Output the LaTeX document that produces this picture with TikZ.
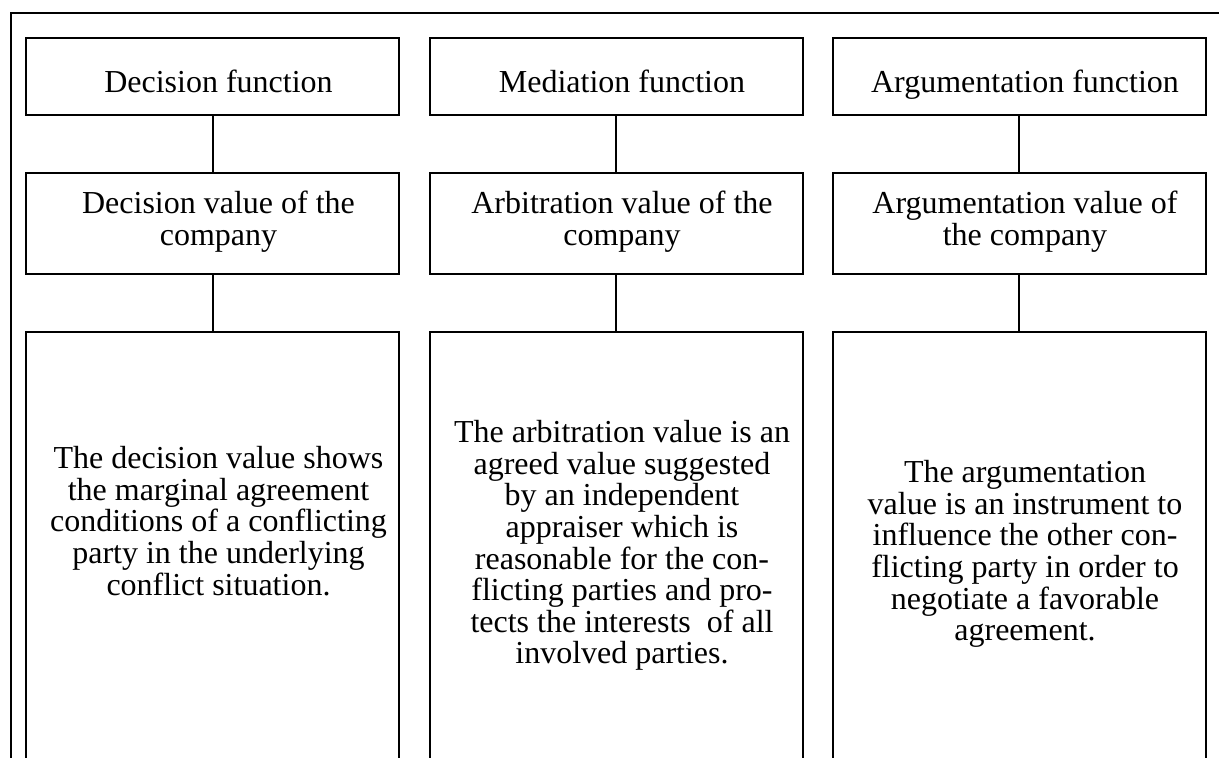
\documentclass[tikz,border=0pt]{standalone}
\usepackage{fontspec}
\setmainfont{Liberation Serif}
\begin{document}
\begin{tikzpicture}[x=0.5pt,y=-0.5pt,
    box/.style={draw,line width=1pt,minimum width=186.5pt,inner sep=0pt},
    txt/.style={anchor=north,align=center,inner sep=0pt,
      font=\fontsize{16pt}{15.8pt}\selectfont},
    link/.style={line width=1pt}]
  \useasboundingbox (0,0) rectangle (1219,758);
  \clip (0,0) rectangle (1219,758);
  % outer frame
  \draw[line width=0.6pt] (11,13) rectangle (1260,800);
  % functions
  \node[box,minimum height=38.5pt] (decfun) at (212.5,76.5) {};
  \node[box,minimum height=38.5pt] (medfun) at (616,76.5) {};
  \node[box,minimum height=38.5pt] (argfun) at (1019,76.5) {};
  \node[txt] (decfunt) at (218.5,70) {Decision function};
  \node[txt] (medfunt) at (622,70) {Mediation function};
  \node[txt] (argfunt) at (1025,70) {Argumentation function};
  % values
  \node[box,minimum height=50.5pt] (decval) at (212.5,223.5) {};
  \node[box,minimum height=50.5pt] (medval) at (616,223.5) {};
  \node[box,minimum height=50.5pt] (argval) at (1019,223.5) {};
  \node[txt] (decvalt) at (218.5,191) {Decision value of the\\company};
  \node[txt] (medvalt) at (622,191) {Arbitration value of the\\company};
  \node[txt] (argvalt) at (1025,191) {Argumentation value of\\the company};
  % descriptions
  \node[box,minimum height=234pt] (decdesc) at (212.5,566) {};
  \node[box,minimum height=234pt] (meddesc) at (616,566) {};
  \node[box,minimum height=234pt] (argdesc) at (1019,566) {};
  \node[txt] (decdesct) at (218.5,446) {The decision value shows\\the marginal agreement\\
    conditions of a conflicting\\party in the underlying\\conflict situation.};
  \node[txt] (meddesct) at (622,420) {The arbitration value is an\\agreed value suggested\\
    by an independent\\appraiser which is\\reasonable for the con-\\
    flicting parties and pro-\\tects the interests\ \ of all\\involved parties.};
  \node[txt] (argdesct) at (1025,460) {The argumentation\\value is an instrument to\\
    influence the other con-\\flicting party in order to\\negotiate a favorable\\agreement.};
  % links
  \draw[link] (decfun) -- (decval) -- (decdesc);
  \draw[link] (medfun) -- (medval) -- (meddesc);
  \draw[link] (argfun) -- (argval) -- (argdesc);
\end{tikzpicture}
\end{document}
